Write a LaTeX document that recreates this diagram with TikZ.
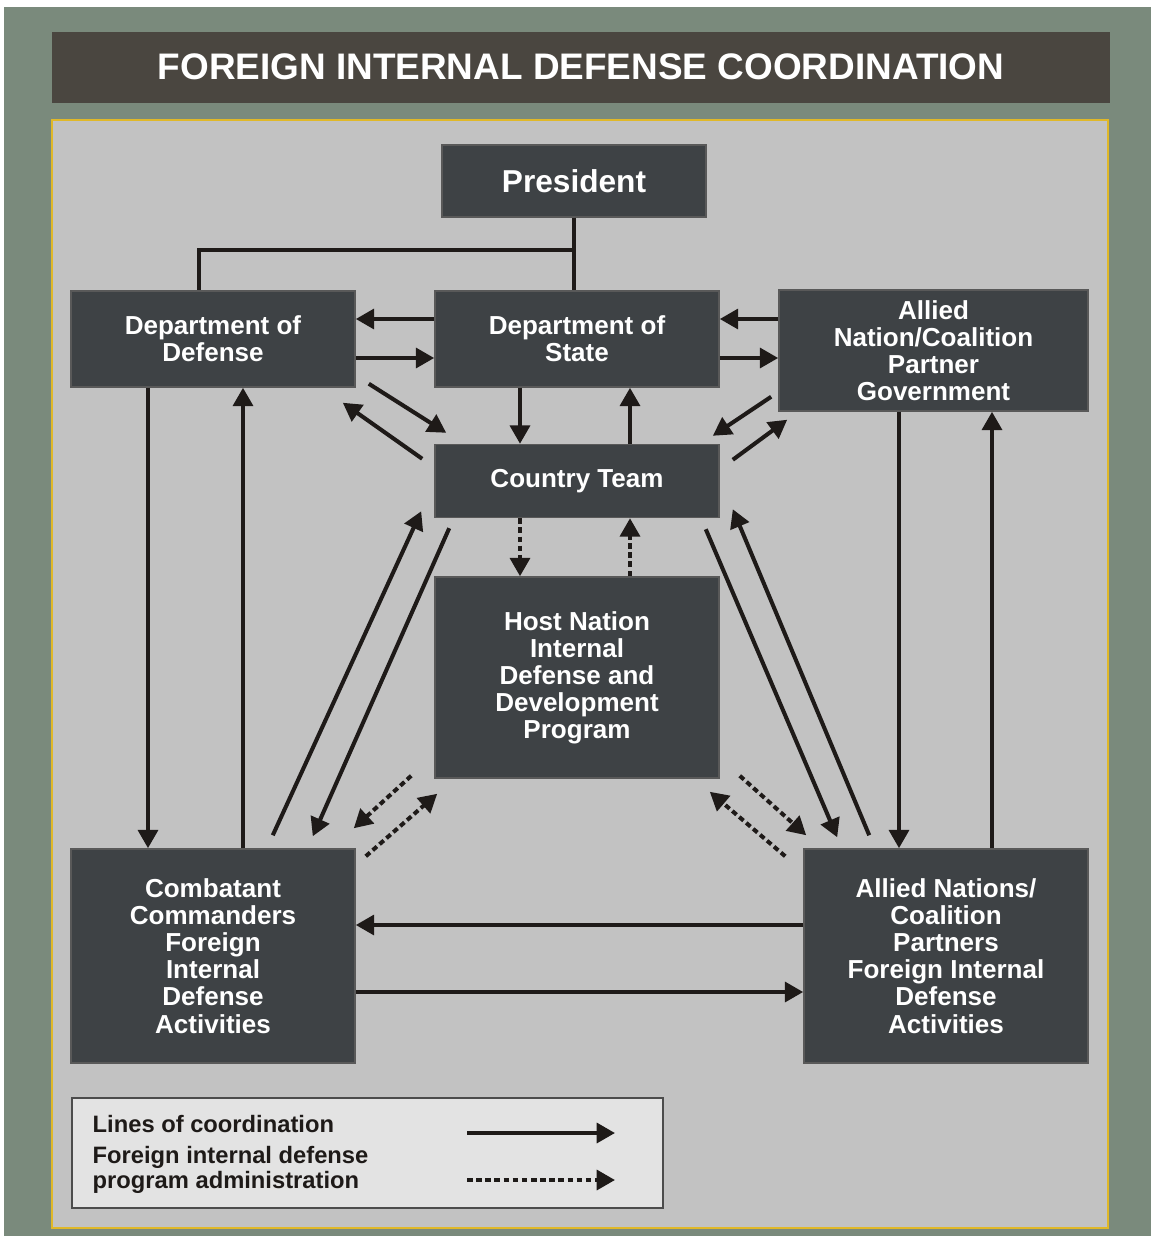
\documentclass[tikz,border=0pt]{standalone}
\usepackage{fontspec}
\setmainfont{Liberation Sans}
\usetikzlibrary{calc,arrows.meta}

\definecolor{bggreen}{HTML}{7A8A7C}
\definecolor{panelgray}{HTML}{C2C2C2}
\definecolor{panelline}{HTML}{E0B828}
\definecolor{titlebar}{HTML}{4A4640}
\definecolor{boxfill}{HTML}{3E4245}
\definecolor{ink}{HTML}{1E1A18}
\definecolor{legendfill}{HTML}{E3E3E3}

\begin{document}
\begin{tikzpicture}[x=0.01cm, y=-0.01cm,
  box/.style={draw=black!65, line width=0.4pt, fill=boxfill, text=white, inner sep=0pt,
    align=center, font=\bfseries\fontsize{7.4}{7.7}\selectfont},
  arr/.style={draw=ink, line width=1.15pt, -{Triangle[length=5.2pt,width=5.6pt]}},
  darr/.style={arr, dash pattern=on 1.6pt off 1pt}]
  \useasboundingbox (0,0) rectangle (1151,1236);

  \fill[bggreen] (4,7) rectangle (1151,1236);
  \fill[titlebar] (52,32) rectangle (1110,103);
  \filldraw[fill=panelgray, draw=panelline, line width=0.5pt] (52,120) rectangle (1108,1228);

  \node (title) at (581,67) [text=white, font=\bfseries\fontsize{10.5}{12}\selectfont]
    {FOREIGN INTERNAL DEFENSE COORDINATION};

  \node (pres) at (574,181) [box, minimum width=2.64cm, minimum height=0.72cm,
    font=\bfseries\fontsize{9}{10}\selectfont] {President};
  \node (dod) at (213,339) [box, minimum width=2.84cm, minimum height=0.96cm] {Department of\\Defense};
  \node (dos) at (577,339) [box, minimum width=2.84cm, minimum height=0.96cm] {Department of\\State};
  \node (ally) at (933.5,350.5) [box, minimum width=3.09cm, minimum height=1.21cm]
    {Allied\\Nation/Coalition\\Partner\\Government};
  \node (ct) at (577,481) [box, minimum width=2.84cm, minimum height=0.73cm] {Country Team};
  \node (hn) at (577,677.5) [box, minimum width=2.84cm, minimum height=2.01cm]
    {Host Nation\\Internal\\Defense and\\Development\\Program};
  \node (cc) at (213,956) [box, minimum width=2.84cm, minimum height=2.14cm]
    {Combatant\\Commanders\\Foreign\\Internal\\Defense\\Activities};
  \node (an) at (946,956) [box, minimum width=2.84cm, minimum height=2.14cm]
    {Allied Nations/\\Coalition\\Partners\\Foreign Internal\\Defense\\Activities};

  % president line
  \coordinate (jn) at ($(pres.south)+(0,32)$);
  \draw[ink, line width=1.15pt] (pres.south) -- (pres.south |- dos.north);
  \draw[ink, line width=1.15pt] (jn) -| ($(dod.north)+(-14,0)$);

  % top row
  \draw[arr] ($(dos.west)+(0,-20)$) -- ($(dod.east)+(0,-20)$);
  \draw[arr] ($(dod.east)+(0,19)$) -- ($(dos.west)+(0,19)$);
  \coordinate (aw) at (ally.west |- dos.east);
  \draw[arr] ($(aw)+(0,-20)$) -- ($(dos.east)+(0,-20)$);
  \draw[arr] ($(dos.east)+(0,19)$) -- ($(aw)+(0,19)$);

  % state and country team
  \draw[arr] ($(dos.south)+(-57,0)$) -- ($(ct.north)+(-57,0)$);
  \draw[arr] ($(ct.north)+(53,0)$) -- ($(dos.south)+(53,0)$);
  \draw[darr] ($(ct.south)+(-57,0)$) -- ($(hn.north)+(-57,0)$);
  \draw[darr] ($(hn.north)+(53,0)$) -- ($(ct.south)+(53,0)$);

  % diagonals to country team
  \draw[arr] ($(dod.south east)+(13,-4)$) -- ($(ct.north west)+(12,-11)$);
  \draw[arr] ($(ct.north west)+(-12,15)$) -- ($(dod.south east)+(-13,15)$);
  \draw[arr] ($(ally.south west)+(-7,-15)$) -- ($(ct.north east)+(-7,-8)$);
  \draw[arr] ($(ct.north east)+(13,16)$) -- ($(ally.south west)+(9,8)$);
  \draw[arr] ($(cc.north east)+(-83,-13)$) -- ($(ct.south west)+(-13,-7)$);
  \draw[arr] ($(ct.south west)+(15,10)$) -- ($(cc.north east)+(-43,-12)$);
  \draw[arr] ($(ct.south east)+(-14,11)$) -- ($(an.north west)+(34,-11)$);
  \draw[arr] ($(an.north west)+(66,-13)$) -- ($(ct.south east)+(13,-9)$);

  % host nation program
  \draw[darr] ($(hn.south west)+(-23,-3)$) -- ($(cc.north east)+(-2,-20)$);
  \draw[darr] ($(cc.north east)+(10,8)$) -- ($(hn.south west)+(3,15)$);
  \draw[darr] ($(hn.south east)+(20,-3)$) -- ($(an.north west)+(3,-13)$);
  \draw[darr] ($(an.north west)+(-18,8)$) -- ($(hn.south east)+(-10,13)$);

  % sides
  \draw[arr] ($(dod.south)+(-65,0)$) -- ($(cc.north)+(-65,0)$);
  \draw[arr] ($(cc.north)+(30,0)$) -- ($(dod.south)+(30,0)$);
  \coordinate (a1) at ($(ally.south)+(-34.5,0)$);
  \coordinate (a2) at ($(ally.south)+(58.5,0)$);
  \draw[arr] (a1) -- (a1 |- an.north);
  \draw[arr] (a2 |- an.north) -- (a2);
  \draw[arr] ($(an.west)+(0,-31)$) -- ($(cc.east)+(0,-31)$);
  \draw[arr] ($(cc.east)+(0,36)$) -- ($(an.west)+(0,36)$);

  % legend
  \node (key) at (367.5,1153) [draw=black!70, fill=legendfill, minimum width=5.91cm, minimum height=1.1cm] {};
  \node (l1) at (92,1124) [anchor=west, text=ink, inner sep=0pt, font=\bfseries\fontsize{6.75}{7}\selectfont]
    {Lines of coordination};
  \node (l2) at (92,1170) [anchor=west, text=ink, inner sep=0pt, align=left,
    font=\bfseries\fontsize{6.75}{6.9}\selectfont] {Foreign internal defense\\program administration};
  \coordinate (k1) at (467,1133);
  \coordinate (k2) at (615,1133);
  \coordinate (k3) at (467,1180);
  \coordinate (k4) at (615,1180);
  \draw[arr] (k1) -- (k2);
  \draw[darr] (k3) -- (k4);
\end{tikzpicture}
\end{document}
